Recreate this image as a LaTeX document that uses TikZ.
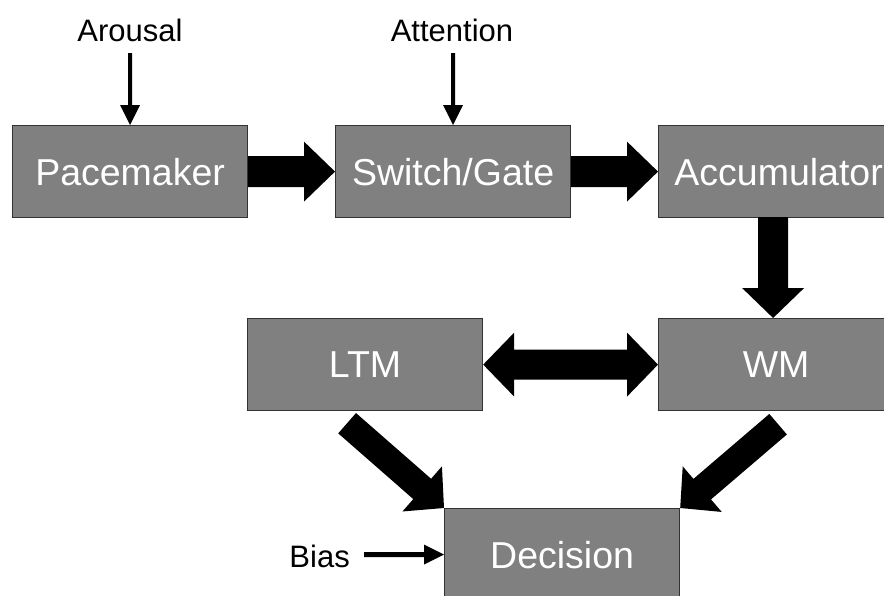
\documentclass[tikz,border=0pt]{standalone}
\usepackage{fontspec}
\setmainfont{Liberation Sans}
\usetikzlibrary{calc}

\definecolor{boxfill}{HTML}{808080}
\definecolor{boxline}{HTML}{333333}

\tikzset{
  unitbox/.style={draw=boxline, line width=1.2pt, fill=boxfill, text=white,
    font=\fontsize{37.5}{42}\selectfont, minimum width=235pt, minimum height=92pt,
    inner sep=0pt, anchor=north west},
  inputlabel/.style={font=\fontsize{31}{35}\selectfont, text=black, inner sep=0pt},
}

% Filled block arrow: tail, tip, shaft half width, head half width, head length
\newcommand{\blockarrow}[5]{%
  \coordinate (bahead) at ($(#2)!#5!(#1)$);
  \fill[black] ($(#1)!#3!90:(#2)$) -- ($(bahead)!#3!90:(#2)$) -- ($(bahead)!#4!90:(#2)$)
    -- (#2) -- ($(bahead)!#4!-90:(#2)$) -- ($(bahead)!#3!-90:(#2)$)
    -- ($(#1)!#3!-90:(#2)$) -- cycle;
}
% Filled double-headed block arrow: tip one, tip two, shaft half width, head half width, head length
\newcommand{\doubleblockarrow}[5]{%
  \coordinate (dahead1) at ($(#1)!#5!(#2)$);
  \coordinate (dahead2) at ($(#2)!#5!(#1)$);
  \fill[black] (#1) -- ($(dahead1)!#4!90:(#2)$) -- ($(dahead1)!#3!90:(#2)$)
    -- ($(dahead2)!#3!90:(#2)$) -- ($(dahead2)!#4!90:(#2)$) -- (#2)
    -- ($(dahead2)!#4!-90:(#2)$) -- ($(dahead2)!#3!-90:(#2)$)
    -- ($(dahead1)!#3!-90:(#2)$) -- ($(dahead1)!#4!-90:(#2)$) -- cycle;
}

\begin{document}
\begin{tikzpicture}[x=1pt, y=-1pt]
  \useasboundingbox (0,0) rectangle (884,595);
  \clip (0,0) rectangle (884,595);

  % processing stages
  \node[unitbox] (pace) at (12,125)  {Pacemaker};
  \node[unitbox] (gate) at (335,125) {Switch/Gate};
  \node[unitbox, minimum width=240pt] (acc) at (658,125) {Accumulator};
  \node[unitbox] (ltm)  at (247,318) {LTM};
  \node[unitbox] (wm)   at (658,318) {WM};
  \node[unitbox] (dec)  at (444,508) {Decision};

  % external influences
  \node[inputlabel] (arousal) at (130,30) {Arousal};
  \node[inputlabel] (attn)    at (452,30) {Attention};
  \node[inputlabel, anchor=east] (bias) at (350,556) {Bias};

  \coordinate (arousalend) at ($(pace.north)+(0,-72)$);
  \coordinate (attnend)    at ($(gate.north)+(0,-72)$);
  \coordinate (biasend)    at ($(dec.west)+(-80,0)$);

  \blockarrow{arousalend}{pace.north}{2pt}{10pt}{20pt}
  \blockarrow{attnend}{gate.north}{2pt}{10pt}{20pt}
  \blockarrow{biasend}{dec.west}{2.5pt}{10pt}{20pt}

  % main pathway
  \blockarrow{pace.east}{gate.west}{15.5pt}{30pt}{31pt}
  \blockarrow{gate.east}{acc.west}{15.5pt}{30pt}{31pt}

  \coordinate (accout) at ($(wm.north)+(-3,-101)$);
  \coordinate (wmin)   at ($(wm.north)+(-3,0)$);
  \blockarrow{accout}{wmin}{15pt}{31pt}{30pt}

  \doubleblockarrow{ltm.east}{wm.west}{15pt}{32pt}{31pt}

  \coordinate (ltmout) at ($(ltm.south)+(-18,12)$);
  \coordinate (wmout)  at ($(wm.south)+(2,13)$);
  \blockarrow{ltmout}{dec.north west}{13.5pt}{30pt}{29pt}
  \blockarrow{wmout}{dec.north east}{13.5pt}{30pt}{29pt}
\end{tikzpicture}
\end{document}
